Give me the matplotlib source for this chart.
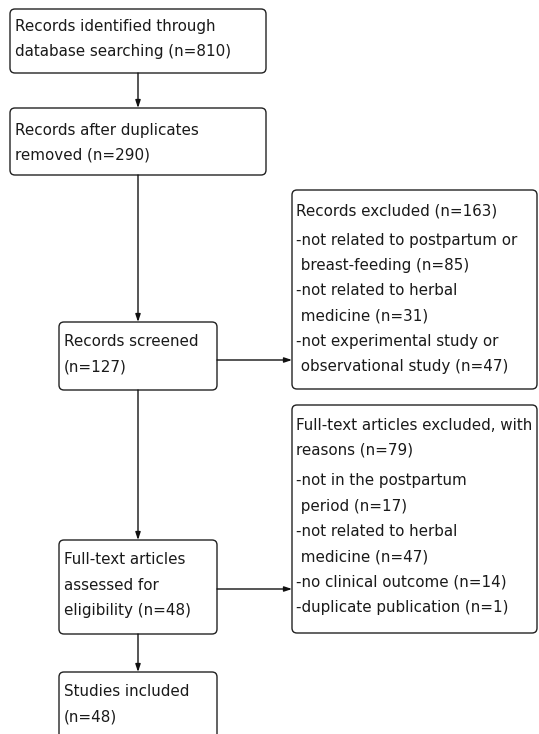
import matplotlib
matplotlib.use("Agg")
import matplotlib.pyplot as plt
from matplotlib.patches import FancyBboxPatch

# ---- content ----
box_identified = ["Records identified through", "database searching (n=810)"]
box_dedup = ["Records after duplicates", "removed (n=290)"]
box_screened = ["Records screened", "(n=127)"]
box_fulltext = ["Full-text articles", "assessed for", "eligibility (n=48)"]
box_included = ["Studies included", "(n=48)"]
excl1_title = ["Records excluded (n=163)"]
excl1_items = ["-not related to postpartum or", " breast-feeding (n=85)",
               "-not related to herbal", " medicine (n=31)",
               "-not experimental study or", " observational study (n=47)"]
excl2_title = ["Full-text articles excluded, with", "reasons (n=79)"]
excl2_items = ["-not in the postpartum", " period (n=17)",
               "-not related to herbal", " medicine (n=47)",
               "-no clinical outcome (n=14)", "-duplicate publication (n=1)"]

W, H = 539, 734
fig = plt.figure(figsize=(W / 100, H / 100), dpi=100)
ax = fig.add_axes([0, 0, 1, 1])
ax.set_xlim(0, W)
ax.set_ylim(H, 0)
ax.axis("off")

FONT = dict(family="DejaVu Sans", fontsize=10.9, color="#1a1a1a", va="center", ha="left")
LH = 25.3


def box(x0, y0, x1, y1):
    p = FancyBboxPatch((x0, y0), x1 - x0, y1 - y0,
                       boxstyle="round,pad=0,rounding_size=5",
                       fc="white", ec="#222222", lw=1.0)
    ax.add_patch(p)


def lines(x, y, texts):
    for i, t in enumerate(texts):
        ax.text(x, y + i * LH, t, **FONT)


def arrow(x0, y0, x1, y1):
    ax.annotate("", xy=(x1, y1), xytext=(x0, y0),
                arrowprops=dict(arrowstyle="-|>,head_length=0.45,head_width=0.15",
                                color="#111111", lw=1.0, shrinkA=0, shrinkB=0))


# boxes
box(10, 9, 266, 73)
lines(15, 26, box_identified)
box(10, 108, 266, 175)
lines(15, 130, box_dedup)
box(59, 322, 217, 390)
lines(64, 342, box_screened)
box(59, 540, 217, 634)
lines(64, 560, box_fulltext)
box(59, 672, 217, 760)
lines(64, 692, box_included)

box(292, 190, 537, 389)
lines(296, 211, excl1_title)
lines(296, 240, excl1_items)
box(292, 405, 537, 633)
lines(296, 425, excl2_title)
lines(296, 481, excl2_items)

# arrows
cx = 138
arrow(cx, 73, cx, 108)
arrow(cx, 175, cx, 322)
arrow(cx, 390, cx, 540)
arrow(cx, 634, cx, 672)
arrow(217, 360, 292, 360)
arrow(217, 589, 292, 589)

fig.savefig("out.png", dpi=100)
